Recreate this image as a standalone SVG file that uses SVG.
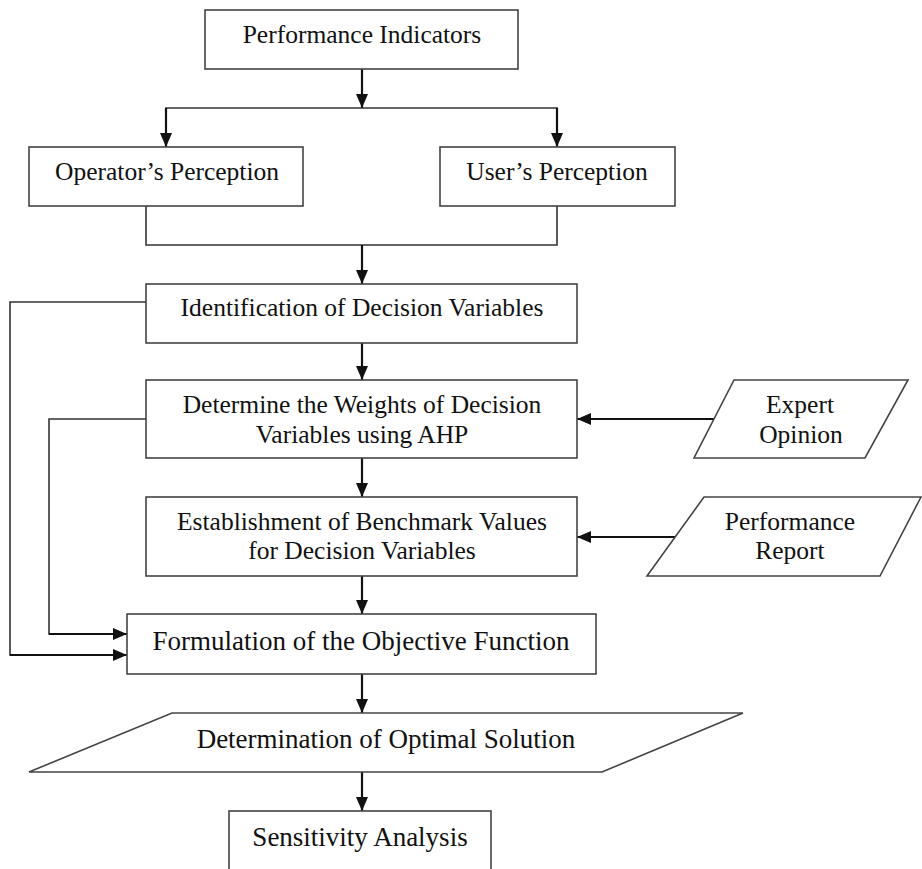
<svg xmlns="http://www.w3.org/2000/svg" width="922" height="869" viewBox="0 0 922 869">
  <style>
    .box { fill: #ffffff; stroke: #444444; stroke-width: 1.6; }
    .lbl { font-family: "Liberation Serif", "Times New Roman", serif; font-size: 25.5px; fill: #111111; text-anchor: middle; }
    .big { font-size: 27px; }
    .line { fill: none; stroke: #333333; stroke-width: 1.6; }
    .arr { fill: none; stroke: #111111; stroke-width: 2.2; marker-end: url(#head); }
  </style>
  <defs>
    <marker id="head" viewBox="0 0 14 12" refX="14" refY="6" markerWidth="14" markerHeight="12" markerUnits="userSpaceOnUse" orient="auto">
      <path d="M0,0 L14,6 L0,12 Z" fill="#111111"/>
    </marker>
  </defs>
  <rect width="922" height="869" fill="#ffffff"/>

  <!-- connectors -->
  <g id="connectors">
    <line class="arr" x1="362" y1="69" x2="362" y2="108"/>
    <polyline class="line" points="166,121 166,108 557,108 557,121"/>
    <line class="arr" x1="166" y1="108" x2="166" y2="147"/>
    <line class="arr" x1="557" y1="108" x2="557" y2="147"/>
    <polyline class="line" points="146,206 146,245 557,245 557,206"/>
    <line class="arr" x1="362" y1="245" x2="362" y2="284"/>
    <line class="arr" x1="362" y1="343" x2="362" y2="380"/>
    <line class="arr" x1="362" y1="458" x2="362" y2="497"/>
    <line class="arr" x1="362" y1="576" x2="362" y2="614"/>
    <line class="arr" x1="362" y1="674" x2="362" y2="713"/>
    <line class="arr" x1="362" y1="772" x2="362" y2="811"/>
    <line class="arr" x1="714" y1="419" x2="577" y2="419"/>
    <line class="arr" x1="675" y1="537" x2="577" y2="537"/>
    <polyline class="line" points="146,302 10,302 10,655 60,655"/>
    <line class="arr" x1="10" y1="655" x2="127" y2="655"/>
    <polyline class="line" points="146,419 49,419 49,634 80,634"/>
    <line class="arr" x1="49" y1="634" x2="127" y2="634"/>
  </g>

  <g id="performance-indicators">
    <rect class="box" x="205" y="10" width="313" height="59"/>
    <text class="lbl" x="362" y="43">Performance Indicators</text>
  </g>

  <g id="operators-perception">
    <rect class="box" x="29" y="147" width="274" height="59"/>
    <text class="lbl" x="167" y="180">Operator’s Perception</text>
  </g>

  <g id="users-perception">
    <rect class="box" x="440" y="147" width="235" height="59"/>
    <text class="lbl" x="557" y="180">User’s Perception</text>
  </g>

  <g id="identification">
    <rect class="box" x="146" y="284" width="431" height="59"/>
    <text class="lbl" x="362" y="316">Identification of Decision Variables</text>
  </g>

  <g id="weights-ahp">
    <rect class="box" x="146" y="380" width="431" height="78"/>
    <text class="lbl" x="362" y="413">Determine the Weights of Decision</text>
    <text class="lbl" x="362" y="443">Variables using AHP</text>
  </g>

  <g id="expert-opinion">
    <polygon class="box" points="734,380 908,380 865,458 694,458"/>
    <text class="lbl" x="800" y="413">Expert</text>
    <text class="lbl" x="801" y="443">Opinion</text>
  </g>

  <g id="benchmark-values">
    <rect class="box" x="146" y="497" width="431" height="79"/>
    <text class="lbl" x="362" y="530">Establishment of Benchmark Values</text>
    <text class="lbl" x="362" y="559">for Decision Variables</text>
  </g>

  <g id="performance-report">
    <polygon class="box" points="704,497 921,497 880,576 647,576"/>
    <text class="lbl" x="790" y="530">Performance</text>
    <text class="lbl" x="790" y="559">Report</text>
  </g>

  <g id="objective-function">
    <rect class="box" x="127" y="614" width="469" height="60"/>
    <text class="lbl big" x="361" y="650">Formulation of the Objective Function</text>
  </g>

  <g id="optimal-solution">
    <polygon class="box" points="172,713 743,713 602,772 29,772"/>
    <text class="lbl big" x="386" y="748">Determination of Optimal Solution</text>
  </g>

  <g id="sensitivity-analysis">
    <rect class="box" x="229" y="811" width="262" height="80"/>
    <text class="lbl big" x="360" y="846">Sensitivity Analysis</text>
  </g>
</svg>
